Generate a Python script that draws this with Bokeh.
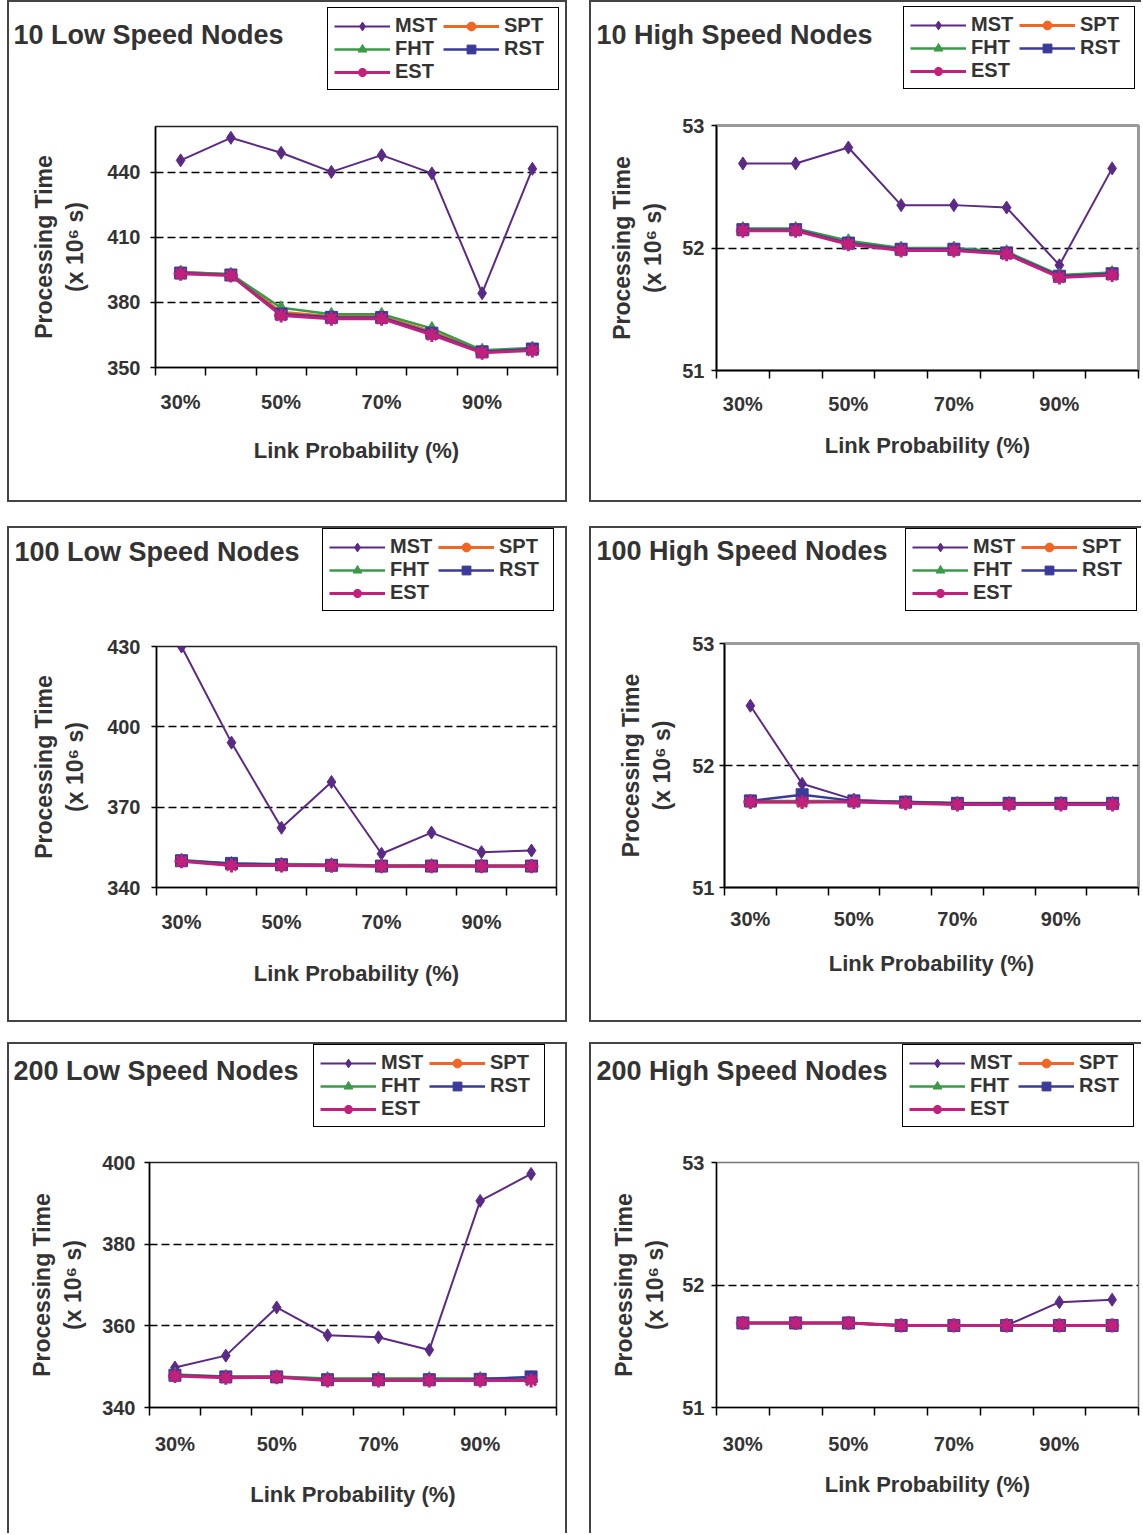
from bokeh.plotting import figure
from bokeh.models import Range1d, FixedTicker, Label, Legend, LegendItem, Spacer
from bokeh.layouts import row, column
from bokeh.embed import file_html
from bokeh.resources import INLINE

# ---------------- data ----------------
link_prob = ["30%", "40%", "50%", "60%", "70%", "80%", "90%", "100%"]
tick_labels = ["30%", "50%", "70%", "90%"]
series_names = ["MST", "SPT", "FHT", "RST", "EST"]

titles = ["10 Low Speed Nodes", "10 High Speed Nodes",
          "100 Low Speed Nodes", "100 High Speed Nodes",
          "200 Low Speed Nodes", "200 High Speed Nodes"]

# 10 Low Speed Nodes
mst_10_low = [445.4, 455.8, 448.9, 440.1, 447.8, 439.4, 384.2, 441.5]
spt_10_low = [393.8, 392.8, 375.5, 373.5, 373.5, 366.5, 357.5, 358.5]
fht_10_low = [394.0, 393.0, 377.5, 374.5, 374.5, 368.0, 358.0, 359.0]
rst_10_low = [393.5, 392.6, 374.6, 373.1, 373.0, 365.8, 357.2, 358.5]
est_10_low = [393.2, 392.4, 374.0, 372.5, 372.5, 365.0, 356.8, 357.8]

# 10 High Speed Nodes
mst_10_high = [52.69, 52.69, 52.82, 52.35, 52.35, 52.33, 51.86, 52.65]
spt_10_high = [52.15, 52.15, 52.05, 51.99, 51.99, 51.96, 51.77, 51.79]
fht_10_high = [52.16, 52.16, 52.06, 52.00, 52.00, 51.97, 51.78, 51.80]
rst_10_high = [52.15, 52.15, 52.04, 51.99, 51.99, 51.96, 51.77, 51.79]
est_10_high = [52.14, 52.14, 52.03, 51.98, 51.98, 51.95, 51.76, 51.78]

# 100 Low Speed Nodes
mst_100_low = [430.0, 394.1, 362.3, 379.4, 352.6, 360.5, 353.2, 353.8]
spt_100_low = [350.0, 348.5, 348.4, 348.3, 348.0, 348.1, 348.0, 348.0]
fht_100_low = [350.3, 349.0, 348.8, 348.6, 348.2, 348.2, 348.1, 348.1]
rst_100_low = [350.0, 349.0, 348.5, 348.3, 348.0, 348.0, 348.0, 348.0]
est_100_low = [349.8, 348.2, 348.2, 348.1, 347.9, 347.9, 347.9, 347.9]

# 100 High Speed Nodes
mst_100_high = [52.49, 51.85, 51.72, 51.70, 51.69, 51.69, 51.69, 51.69]
spt_100_high = [51.70, 51.70, 51.71, 51.70, 51.69, 51.69, 51.69, 51.69]
fht_100_high = [51.71, 51.71, 51.71, 51.70, 51.69, 51.69, 51.69, 51.69]
rst_100_high = [51.71, 51.76, 51.71, 51.70, 51.69, 51.69, 51.69, 51.69]
est_100_high = [51.70, 51.70, 51.70, 51.69, 51.68, 51.68, 51.68, 51.68]

# 200 Low Speed Nodes
mst_200_low = [349.8, 352.7, 364.5, 357.7, 357.2, 354.1, 390.6, 397.2]
spt_200_low = [347.9, 347.5, 347.5, 346.9, 346.9, 346.9, 346.9, 347.1]
fht_200_low = [348.1, 347.6, 347.6, 347.1, 347.1, 347.1, 347.1, 347.3]
rst_200_low = [347.9, 347.5, 347.5, 346.8, 346.8, 346.8, 346.9, 347.5]
est_200_low = [347.7, 347.3, 347.4, 346.6, 346.6, 346.6, 346.6, 346.6]

# 200 High Speed Nodes
mst_200_high = [51.69, 51.69, 51.69, 51.67, 51.67, 51.67, 51.86, 51.88]
spt_200_high = [51.69, 51.69, 51.69, 51.67, 51.67, 51.67, 51.67, 51.67]
fht_200_high = [51.69, 51.69, 51.69, 51.67, 51.67, 51.67, 51.67, 51.67]
rst_200_high = [51.69, 51.69, 51.69, 51.67, 51.67, 51.67, 51.67, 51.67]
est_200_high = [51.69, 51.69, 51.69, 51.67, 51.67, 51.67, 51.67, 51.67]

y_ticks_10_low = [350, 380, 410, 440]
y_ticks_100_low = [340, 370, 400, 430]
y_ticks_200_low = [340, 360, 380, 400]
y_ticks_high = [51, 52, 53]

panel_data = [
    [mst_10_low, spt_10_low, fht_10_low, rst_10_low, est_10_low],
    [mst_10_high, spt_10_high, fht_10_high, rst_10_high, est_10_high],
    [mst_100_low, spt_100_low, fht_100_low, rst_100_low, est_100_low],
    [mst_100_high, spt_100_high, fht_100_high, rst_100_high, est_100_high],
    [mst_200_low, spt_200_low, fht_200_low, rst_200_low, est_200_low],
    [mst_200_high, spt_200_high, fht_200_high, rst_200_high, est_200_high],
]
panel_ticks = [y_ticks_10_low, y_ticks_high, y_ticks_100_low, y_ticks_high,
               y_ticks_200_low, y_ticks_high]
panel_ranges = [(350, 461), (51, 53), (340, 430), (51, 53), (340, 400), (51, 53)]

# ---------------- style ----------------
FONT = "'Liberation Sans', Arial, sans-serif"
TXT = "#333333"
colors = {"MST": "#5B2A86", "SPT": "#F26522", "FHT": "#3A9A48",
          "RST": "#3A3A9A", "EST": "#C2207A"}
markers = {"MST": "diamond", "SPT": "circle", "FHT": "triangle",
           "RST": "square", "EST": "asterisk"}
msize = {"MST": 13, "SPT": 11, "FHT": 12, "RST": 12, "EST": 14}
lwidth = {"MST": 2, "SPT": 3, "FHT": 2.5, "RST": 2.5, "EST": 3}

BW = 2
BORDER = f"{BW}px solid #444"
TOP_GAP = 16
LEGEND_H = 83

# page-pixel geometry of each panel
geo = [
    dict(box=(7, 0, 567, 502), rb=True, bb=True, fr=(155, 126, 557, 367),
         title=(13, 43), leg=(327, 7), yts=10, yls=16, xts=15, xls=22,
         oc="#222222", ow=1.5),
    dict(box=(589, 0, 1141, 502), rb=False, bb=True, fr=(716, 125, 1138, 370),
         title=(596, 43), leg=(903, 6), yts=7, yls=13, xts=14, xls=15,
         oc="#9a9a9a", ow=3),
    dict(box=(7, 526, 567, 1022), rb=True, bb=True, fr=(156, 646, 556, 887),
         title=(14, 560), leg=(322, 528), yts=11, yls=16, xts=15, xls=25,
         oc="#222222", ow=1.5),
    dict(box=(589, 526, 1141, 1022), rb=False, bb=True, fr=(724, 643, 1138, 887),
         title=(596, 559), leg=(905, 528), yts=5, yls=14, xts=12, xls=18,
         oc="#9a9a9a", ow=3),
    dict(box=(7, 1042, 567, 1533), rb=True, bb=False, fr=(149, 1162, 556, 1407),
         title=(13, 1079), leg=(313, 1044), yts=9, yls=13, xts=17, xls=24,
         oc="#222222", ow=1.5),
    dict(box=(589, 1042, 1141, 1533), rb=False, bb=False, fr=(716, 1162, 1138, 1407),
         title=(596, 1079), leg=(902, 1044), yts=7, yls=11, xts=17, xls=14,
         oc="#777777", ow=1.5),
]

xs = list(range(len(link_prob)))
x_overrides = {i: (lab if lab in tick_labels else "") for i, lab in enumerate(link_prob)}


def no_align(fig):
    try:
        fig.frame_align = False
    except Exception:
        pass


def add_series(fig, name, x, y):
    c = colors[name]
    lr = fig.line(x, y, line_color=c, line_width=lwidth[name])
    if markers[name] == "asterisk":
        sr = fig.scatter(x, y, marker="asterisk", size=msize[name],
                         line_color=c, line_width=3)
    else:
        sr = fig.scatter(x, y, marker=markers[name], size=msize[name],
                         fill_color=c, line_color=c)
    return lr, sr


def make_panel(k):
    g = geo[k]
    x0, y0, x1, y1 = g["box"]
    fl, ft, fr, fb = g["fr"]
    W = x1 - x0
    Hh = ft - y0 - TOP_GAP
    Hp = (y1 - y0) - Hh
    cx0 = x0 + BW
    hbottom = y0 + BW + Hh   # page y of header frame bottom

    # ---------- header (title + legend) ----------
    hd = figure(width=W, height=Hh, output_backend="svg", toolbar_location=None,
                x_range=Range1d(0, 1), y_range=Range1d(0, 1),
                x_axis_location=None, y_axis_location=None,
                min_border=0, outline_line_color=None,
                background_fill_color="white", border_fill_color="white")
    no_align(hd)
    hd.grid.visible = False
    sides = ["top", "left"] + (["right"] if g["rb"] else [])
    hd.styles = {f"border-{s}": BORDER for s in sides}

    # legend-key renderers (placed outside the header's visible range)
    items = {}
    for name in series_names:
        lr, sr = add_series(hd, name, [-5, -4], [-5, -5])
        items[name] = LegendItem(label=name, renderers=[lr, sr])

    lx, ltop = g["leg"]
    legend = Legend(items=[items["MST"], items["FHT"], items["EST"],
                           items["SPT"], items["RST"]],
                    location=(lx - cx0, hbottom - (ltop + LEGEND_H)),
                    orientation="vertical", nrows=3,
                    label_text_font=FONT, label_text_font_size="20px",
                    label_text_font_style="bold", label_text_color=TXT,
                    glyph_width=56, glyph_height=22, label_standoff=5,
                    label_width=48, label_height=16,
                    spacing=0, padding=6, margin=0,
                    border_line_color="black", border_line_width=1.5,
                    border_line_alpha=1.0,
                    background_fill_color="white", background_fill_alpha=1.0)
    hd.add_layout(legend, "center")

    tx, tb = g["title"]
    hd.add_layout(Label(x=tx - cx0, y=hbottom - (tb - 9), x_units="screen", y_units="screen",
                        text=titles[k], text_font=FONT, text_font_size="27px",
                        text_font_style="bold", text_color=TXT,
                        text_baseline="middle", text_align="left"))

    # ---------- plot ----------
    ymin, ymax = panel_ranges[k]
    p = figure(width=W, height=Hp, output_backend="svg", toolbar_location=None,
               x_range=Range1d(-0.5, len(link_prob) - 0.5),
               y_range=Range1d(ymin, ymax),
               min_border_left=fl - cx0, min_border_right=(cx0 + W) - fr,
               min_border_top=TOP_GAP, min_border_bottom=y1 - fb,
               background_fill_color="white", border_fill_color="white")
    no_align(p)
    psides = ["left"] + (["right"] if g["rb"] else []) + (["bottom"] if g["bb"] else [])
    p.styles = {f"border-{s}": BORDER for s in psides}
    p.outline_line_color = g["oc"]
    p.outline_line_width = g["ow"]

    xa = p.xaxis[0]
    xa.ticker = FixedTicker(ticks=[0, 2, 4, 6],
                            minor_ticks=[i - 0.5 for i in range(len(link_prob) + 1)])
    xa.major_label_overrides = x_overrides
    xa.major_tick_out = 0
    xa.major_tick_in = 0
    xa.minor_tick_out = 8
    xa.minor_tick_in = 0
    xa.minor_tick_line_color = "black"
    xa.minor_tick_line_width = 1.5
    xa.axis_line_color = "black"
    xa.axis_line_width = 1.5
    xa.major_label_text_font = FONT
    xa.major_label_text_font_size = "20px"
    xa.major_label_text_font_style = "bold"
    xa.major_label_text_color = TXT
    xa.major_label_standoff = g["xts"]
    xa.axis_label = "Link Probability (%)"
    xa.axis_label_text_font = FONT
    xa.axis_label_text_font_size = "22px"
    xa.axis_label_text_font_style = "bold"
    xa.axis_label_text_color = TXT
    xa.axis_label_standoff = g["xls"]

    ya = p.yaxis[0]
    ticks = panel_ticks[k]
    ya.ticker = FixedTicker(ticks=ticks)
    ya.minor_tick_line_color = None
    ya.major_tick_out = 5
    ya.major_tick_in = 0
    ya.major_tick_line_width = 1.5
    ya.axis_line_color = "black"
    ya.axis_line_width = 1.5
    ya.major_label_text_font = FONT
    ya.major_label_text_font_size = "20px"
    ya.major_label_text_font_style = "bold"
    ya.major_label_text_color = TXT
    ya.major_label_standoff = g["yts"]
    ya.axis_label = "Processing Time\n(x 10\u2076 s)"
    ya.axis_label_text_font = FONT
    ya.axis_label_text_font_size = "23px"
    ya.axis_label_text_font_style = "bold"
    ya.axis_label_text_color = TXT
    ya.axis_label_text_line_height = 1.2
    ya.axis_label_standoff = g["yls"]

    p.xgrid.visible = False
    p.ygrid.ticker = FixedTicker(ticks=[v for v in ticks if ymin < v < ymax])
    p.ygrid.grid_line_color = "black"
    p.ygrid.grid_line_dash = "8 4"
    p.ygrid.grid_line_width = 1.5

    for name, ys in zip(series_names, panel_data[k]):
        add_series(p, name, xs, ys)

    return column(hd, p, spacing=0)


panels = [make_panel(k) for k in range(6)]
r1 = row(panels[0], panels[1], spacing=22)
r2 = row(panels[2], panels[3], spacing=22)
r3 = row(panels[4], panels[5], spacing=22)
layout = column(r1, Spacer(height=24), r2, Spacer(height=20), r3,
                spacing=0, margin=(0, 0, 0, 7))

with open("out.html", "w") as f:
    f.write(file_html(layout, INLINE))
